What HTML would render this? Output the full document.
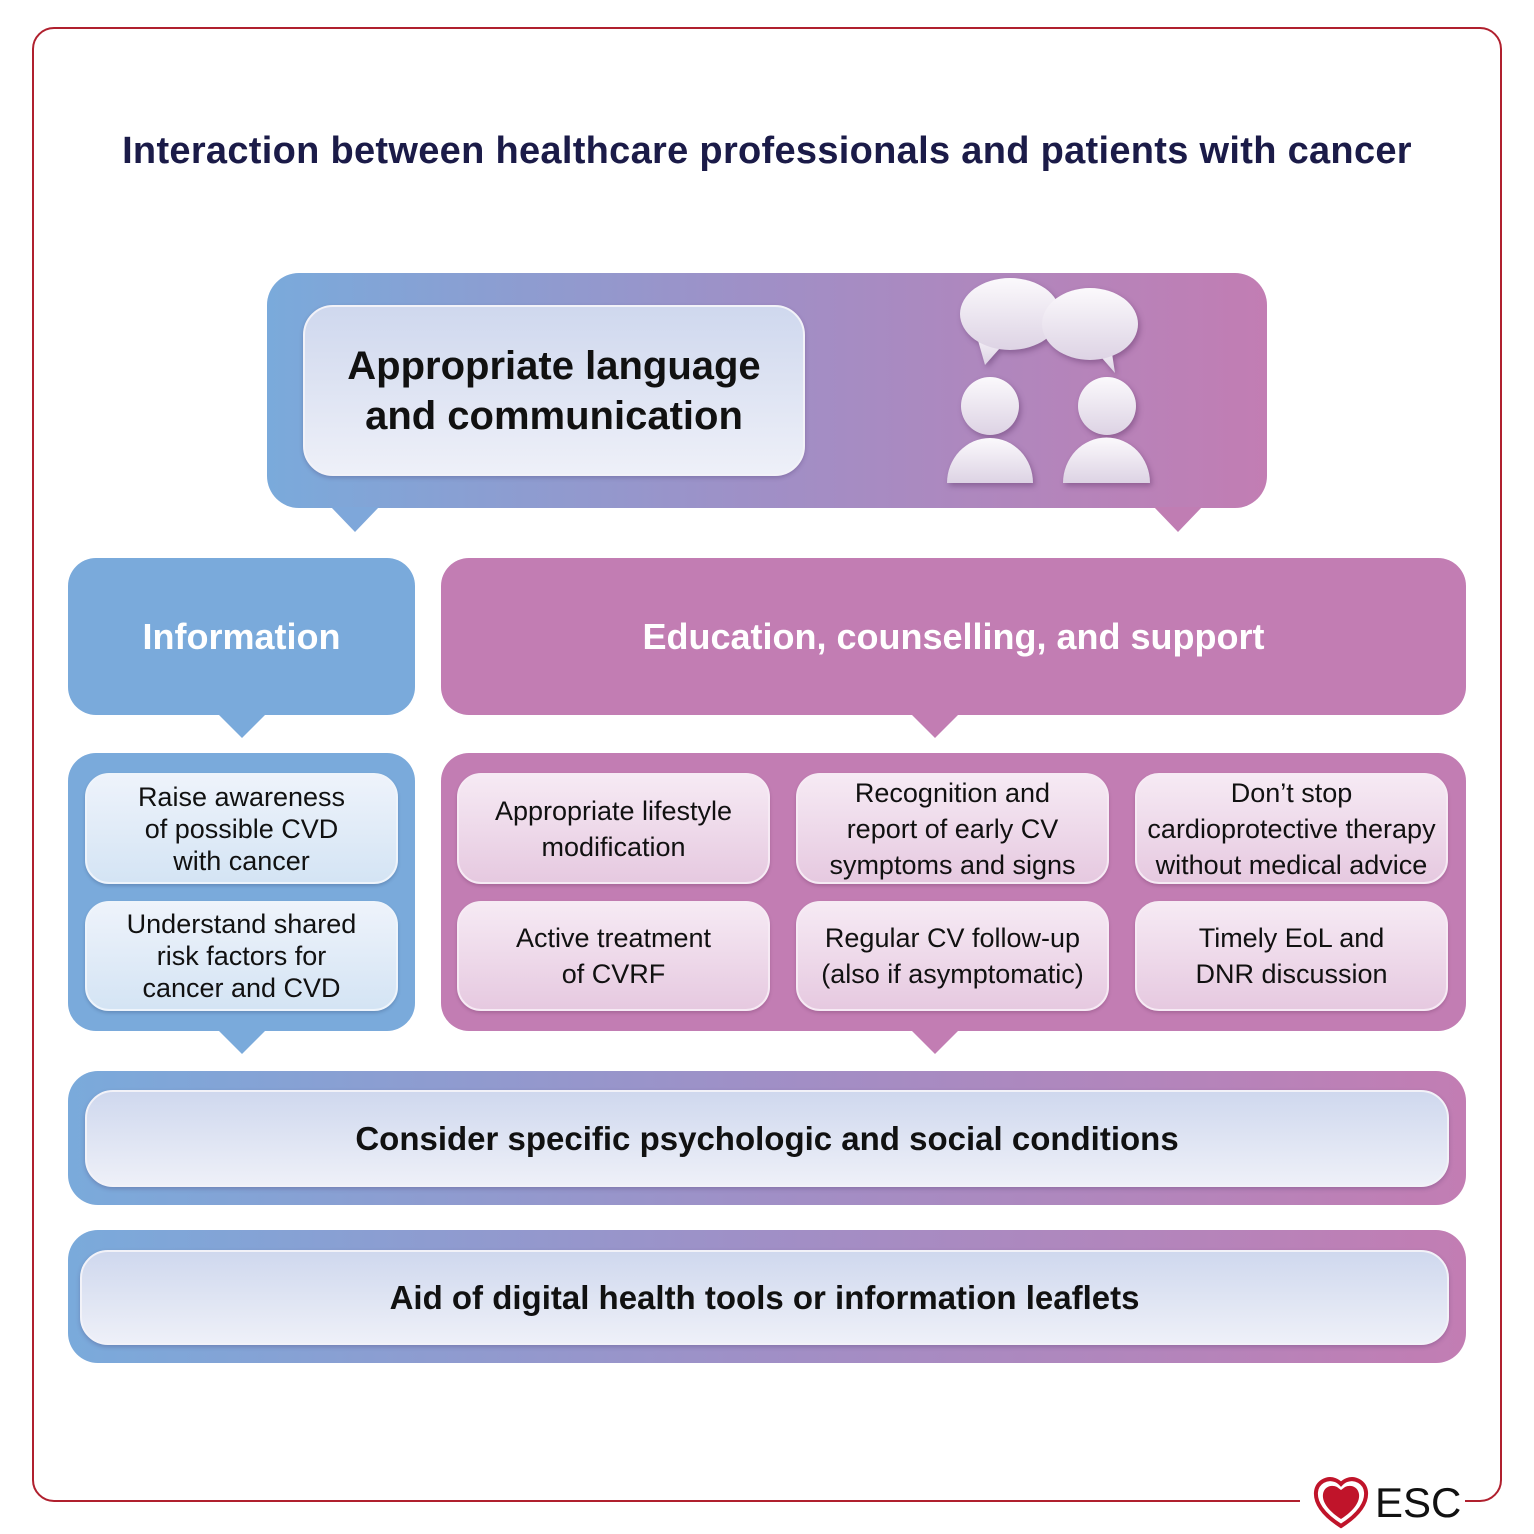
<!DOCTYPE html>
<html><head><meta charset="utf-8"><style>
body{margin:0;width:1534px;height:1534px;background:#fff;position:relative;overflow:hidden;font-family:"Liberation Sans",sans-serif;}
.a{position:absolute;box-sizing:border-box;}
.frame{left:32px;top:27px;width:1470px;height:1475px;border:2px solid #b0202e;border-radius:22px;}
.title{left:0;width:1534px;top:130px;text-align:center;font-size:38px;font-weight:bold;color:#1b1b48;letter-spacing:0.3px;}
.grad{background:linear-gradient(90deg,#7aaadb 0%,#a08fc6 50%,#c27db3 100%);}
.blue{background:#7aaadb;}
.pink{background:#c27db3;}
.inner{background:linear-gradient(180deg,#cfd8ee 0%,#eef0f8 100%);border:2px solid #f2f2f8;display:flex;align-items:center;justify-content:center;text-align:center;color:#111;box-shadow:0 2px 4px rgba(60,40,90,0.25);}
.ib{background:linear-gradient(180deg,#eef3fb 0%,#d4e4f4 100%);border:2px solid #eef4fb;border-radius:24px;display:flex;align-items:center;justify-content:center;text-align:center;font-size:27px;line-height:32px;color:#111;box-shadow:0 2px 3px rgba(40,60,100,0.25);}
.ip{background:linear-gradient(180deg,#f6eaf4 0%,#e6c9e0 100%);border:2px solid #f6eaf4;border-radius:24px;display:flex;align-items:center;justify-content:center;text-align:center;font-size:27px;line-height:36px;color:#111;box-shadow:0 2px 3px rgba(90,40,80,0.25);}
.hd{display:flex;align-items:center;justify-content:center;color:#fff;font-size:36px;font-weight:bold;}
.ptr{width:0;height:0;border-left:24px solid transparent;border-right:24px solid transparent;}
</style></head><body>
<div class="a frame"></div>
<div class="a title">Interaction between healthcare professionals and patients with cancer</div>

<div class="a grad" style="left:267px;top:273px;width:1000px;height:235px;border-radius:32px;"></div>
<div class="a ptr" style="left:331px;top:507px;border-top:25px solid #7ea7da;"></div>
<div class="a ptr" style="left:1154px;top:507px;border-top:25px solid #c07db3;"></div>
<div class="a inner" style="left:303px;top:305px;width:502px;height:171px;border-radius:30px;font-size:40px;font-weight:bold;line-height:50px;">Appropriate language<br>and communication</div>
<svg class="a" style="left:930px;top:270px" width="340" height="270">
<defs><linearGradient id="w" x1="0" y1="0" x2="0" y2="1"><stop offset="0" stop-color="#fbf9fc"/><stop offset="1" stop-color="#ddd3e4"/></linearGradient></defs>
<g fill="url(#w)" stroke="none" style="filter:drop-shadow(2px 3px 3px rgba(70,30,80,0.35))">
<path d="M45 60 L55 95 L70 78 Z"/><ellipse cx="80" cy="44" rx="50" ry="36"/>
<path d="M180 70 L185 103 L165 80 Z"/><ellipse cx="160" cy="54" rx="48" ry="36"/>
<circle cx="60" cy="136" r="29"/><path d="M17 213 A43 45 0 0 1 103 213 Z"/>
<circle cx="177" cy="136" r="29"/><path d="M133 213 A43 45 0 0 1 220 213 Z"/>
</g></svg>

<div class="a blue hd" style="left:68px;top:558px;width:347px;height:157px;border-radius:28px;">Information</div>
<div class="a ptr" style="left:218px;top:714px;border-top:24px solid #7aaadb;"></div>
<div class="a pink hd" style="left:441px;top:558px;width:1025px;height:157px;border-radius:28px;">Education, counselling, and support</div>
<div class="a ptr" style="left:911px;top:714px;border-top:24px solid #c27db3;"></div>

<div class="a blue" style="left:68px;top:753px;width:347px;height:278px;border-radius:28px;"></div>
<div class="a ptr" style="left:218px;top:1030px;border-top:24px solid #7aaadb;"></div>
<div class="a ib" style="left:85px;top:773px;width:313px;height:111px;">Raise awareness<br>of possible CVD<br>with cancer</div>
<div class="a ib" style="left:85px;top:901px;width:313px;height:110px;">Understand shared<br>risk factors for<br>cancer and CVD</div>

<div class="a pink" style="left:441px;top:753px;width:1025px;height:278px;border-radius:28px;"></div>
<div class="a ptr" style="left:911px;top:1030px;border-top:24px solid #c27db3;"></div>
<div class="a ip" style="left:457px;top:773px;width:313px;height:111px;">Appropriate lifestyle<br>modification</div>
<div class="a ip" style="left:796px;top:773px;width:313px;height:111px;">Recognition and<br>report of early CV<br>symptoms and signs</div>
<div class="a ip" style="left:1135px;top:773px;width:313px;height:111px;">Don’t stop<br>cardioprotective therapy<br>without medical advice</div>
<div class="a ip" style="left:457px;top:901px;width:313px;height:110px;">Active treatment<br>of CVRF</div>
<div class="a ip" style="left:796px;top:901px;width:313px;height:110px;">Regular CV follow-up<br>(also if asymptomatic)</div>
<div class="a ip" style="left:1135px;top:901px;width:313px;height:110px;">Timely EoL and<br>DNR discussion</div>

<div class="a grad" style="left:68px;top:1071px;width:1398px;height:134px;border-radius:30px;"></div>
<div class="a inner" style="left:85px;top:1090px;width:1364px;height:97px;border-radius:28px;font-size:33px;font-weight:bold;">Consider specific psychologic and social conditions</div>
<div class="a grad" style="left:68px;top:1230px;width:1398px;height:133px;border-radius:30px;"></div>
<div class="a inner" style="left:80px;top:1250px;width:1369px;height:95px;border-radius:28px;font-size:33px;font-weight:bold;">Aid of digital health tools or information leaflets</div>

<div class="a" style="left:1300px;top:1480px;width:165px;height:50px;background:#fff;"></div>
<svg class="a" style="left:1312px;top:1474px" width="58" height="56">
<path d="M29 52 C10 40 3 28 4 18 C5 8 15 3 23 6 C26 7 28 9 29 10 C30 9 32 7 35 6 C43 3 53 8 54 18 C55 28 48 40 29 52Z" fill="none" stroke="#c0142a" stroke-width="4"/>
<path d="M29 45 C15 36 10 27 11 20 C12 13 19 10 25 13 L29 16 L33 13 C39 10 46 13 47 20 C48 27 43 36 29 45Z" fill="#c0142a"/>
</svg>
<div class="a" style="left:1375px;top:1480px;font-size:42px;color:#111;line-height:46px;">ESC</div>
</body></html>
